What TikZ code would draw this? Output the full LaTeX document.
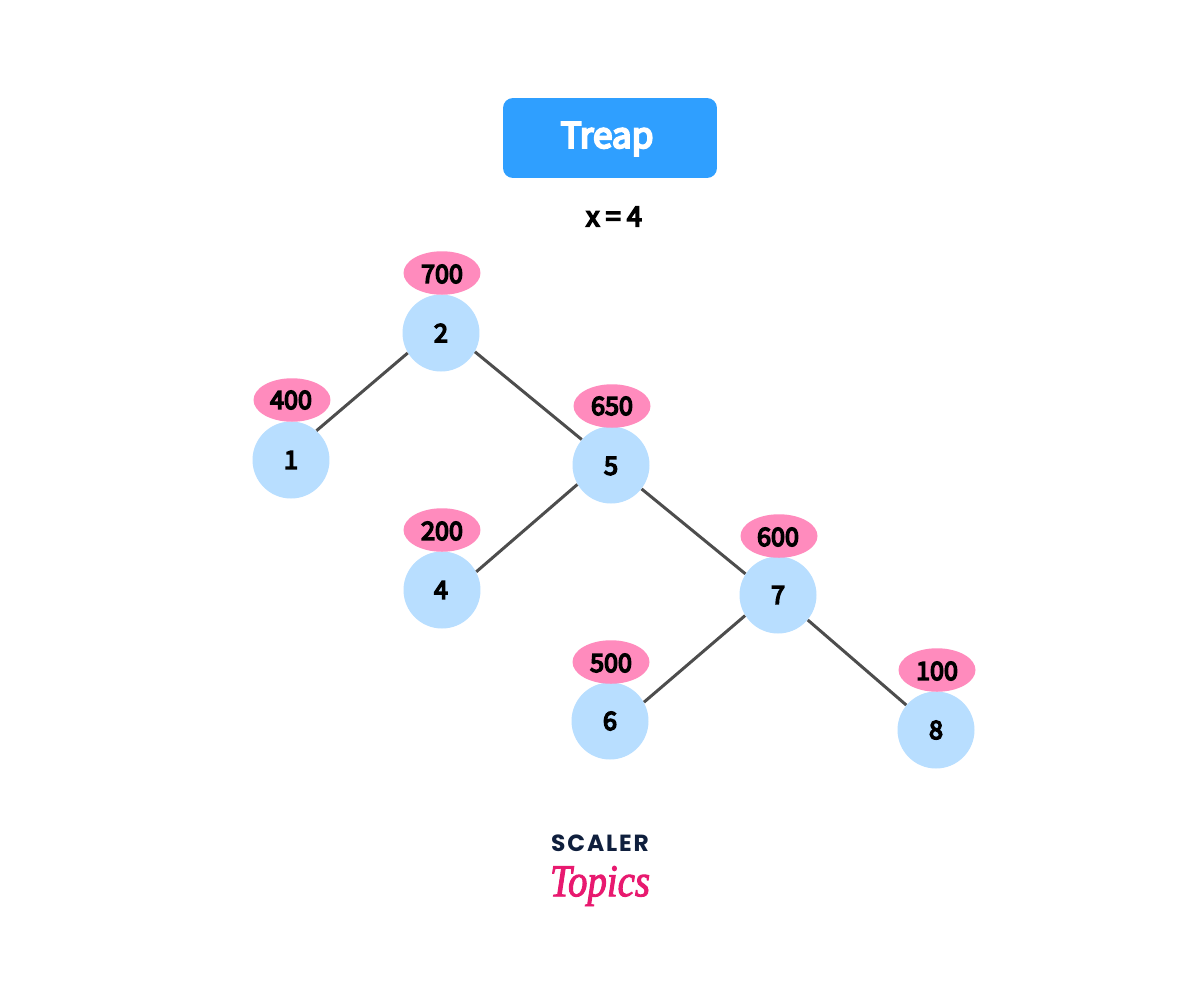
\documentclass[tikz,border=0pt]{standalone}
\usepackage{fontspec}
\usetikzlibrary{shapes.geometric}
\setmainfont{Noto Sans CJK SC}
\newfontface\medfont{Noto Sans CJK SC}[FakeBold=6]
\newfontfamily\logofont[LetterSpace=8]{Poppins}
\newfontface\topicsfont{Liberation Serif Italic}[FakeStretch=0.85,FakeBold=2]
\definecolor{boxblue}{HTML}{2F9FFF}
\definecolor{nodeblue}{HTML}{B8DEFF}
\definecolor{prio}{HTML}{FF8BBD}
\definecolor{edgegrey}{HTML}{4D4D4D}
\definecolor{logonavy}{HTML}{0F1F3D}
\definecolor{logopink}{HTML}{E8196F}
\tikzset{
  labeltext/.style={font=\medfont\fontsize{14.3}{16}\selectfont},
  keynode/.style={circle,fill=nodeblue,minimum size=1.54cm,inner sep=0pt},
  prionode/.style={ellipse,fill=prio,minimum width=1.54cm,minimum height=.87cm,inner sep=0pt},
  edge/.style={draw=edgegrey,line width=1.7pt}
}
\begin{document}
\begin{tikzpicture}[x=0.02cm,y=-0.02cm]
\useasboundingbox (0,0) rectangle (1200,988);
\fill[white] (0,0) rectangle (1200,988);
\node[fill=boxblue,rounded corners=.2cm,minimum width=4.28cm,minimum height=1.6cm,inner sep=0pt] (title) at (610,138) {};
\node[text=white,font=\medfont\fontsize{20}{22}\selectfont] (titletext) at (607,139) {Treap};
\node[font=\medfont\fontsize{15.5}{18}\selectfont] (x) at (614,216.5) {x = 4};
\node[keynode] (n2) at (441,333) {};
\node[keynode] (n1) at (291,460) {};
\node[keynode] (n5) at (611,465) {};
\node[keynode] (n4) at (442,590) {};
\node[keynode] (n7) at (778,595) {};
\node[keynode] (n6) at (610,721) {};
\node[keynode] (n8) at (936,730) {};
\draw[edge] (n2.211) -- (n1.49);
\draw[edge] (n2.331) -- (n5.139);
\draw[edge] (n5.210) -- (n4.28);
\draw[edge] (n5.322) -- (n7.147);
\draw[edge] (n7.212) -- (n6.29);
\draw[edge] (n7.320) -- (n8.140);
\node[prionode] (p2) at (442,273) {};
\node[prionode] (p1) at (292,400) {};
\node[prionode] (p5) at (612,406) {};
\node[prionode] (p4) at (442,530) {};
\node[prionode] (p7) at (779,536) {};
\node[prionode] (p6) at (611,662) {};
\node[prionode] (p8) at (937,670) {};
\node[labeltext] (t2) at (442,274) {700};
\node[labeltext] (t1) at (291,400) {400};
\node[labeltext] (t5) at (612,406) {650};
\node[labeltext] (t4) at (442,531) {200};
\node[labeltext] (t7) at (778,537) {600};
\node[labeltext] (t6) at (611,663) {500};
\node[labeltext] (t8) at (937,671) {100};
\node[labeltext] (l2) at (441,333) {2};
\node[labeltext] (l1) at (291,460) {1};
\node[labeltext] (l5) at (611,466) {5};
\node[labeltext] (l4) at (441,590) {4};
\node[labeltext] (l7) at (778,595) {7};
\node[labeltext] (l6) at (610,721) {6};
\node[labeltext] (l8) at (936,730) {8};
\node[text=logonavy,font=\logofont\bfseries\fontsize{13.3}{14}\selectfont] (scaler) at (600,843) {SCALER};
\node[text=logopink,font=\topicsfont\fontsize{26}{28}\selectfont,inner sep=0pt] (topics) at (600,886) {Topics};
\end{tikzpicture}
\end{document}
